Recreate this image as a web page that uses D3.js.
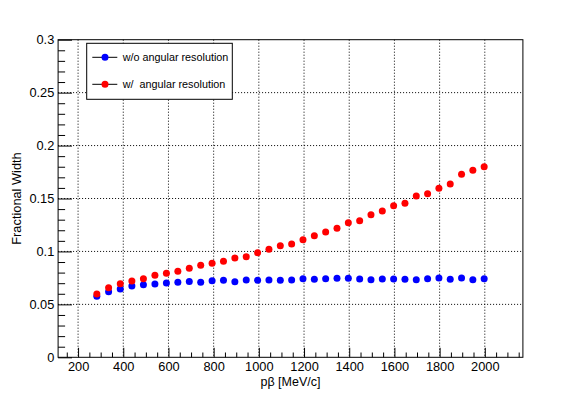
<!DOCTYPE html>
<html>
<head>
<meta charset="utf-8">
<script src="https://cdn.jsdelivr.net/npm/d3@7"></script>
<style>
  body { margin: 0; background: #fff; }
  svg { display: block; font-family: "Liberation Sans", Arial, sans-serif; }
</style>
</head>
<body>
<div class="chart"></div>
<script>
// p*beta values (MeV/c)
const pBeta = [283.0, 335.1, 386.7, 438.1, 489.2, 540.1, 590.9, 641.6, 692.2, 742.7,
  793.1, 843.5, 893.9, 944.2, 994.5, 1044.7, 1095.0, 1145.2, 1195.4, 1245.6,
  1295.7, 1345.9, 1396.0, 1446.2, 1496.3, 1546.4, 1596.5, 1646.6, 1696.7, 1746.8,
  1796.9, 1847.0, 1897.1, 1947.1, 1997.2];

// fractional width without angular resolution
const woAngular = [0.0576, 0.0620, 0.0645, 0.0673, 0.0686, 0.0692, 0.0702, 0.0708, 0.0716, 0.0708,
  0.0724, 0.0727, 0.0714, 0.0730, 0.0727, 0.0730, 0.0727, 0.0730, 0.0743, 0.0737,
  0.0743, 0.0746, 0.0746, 0.0740, 0.0733, 0.0740, 0.0740, 0.0737, 0.0733, 0.0743,
  0.0749, 0.0737, 0.0749, 0.0733, 0.0743];

// fractional width with angular resolution
const wAngular = [0.0598, 0.0657, 0.0695, 0.0721, 0.0742, 0.0775, 0.0793, 0.0812, 0.0840, 0.0869,
  0.0888, 0.0907, 0.0938, 0.0950, 0.0988, 0.1020, 0.1054, 0.1070, 0.1111, 0.1149,
  0.1184, 0.1218, 0.1271, 0.1290, 0.1347, 0.1382, 0.1432, 0.1455, 0.1524, 0.1545,
  0.1596, 0.1637, 0.1729, 0.1766, 0.1800];

const xMajor = [200, 400, 600, 800, 1000, 1200, 1400, 1600, 1800, 2000];
const xMinor = d3.range(150, 2151, 50);
const yMajor = [0, 0.05, 0.1, 0.15, 0.2, 0.25, 0.3];
const yMinor = d3.range(0, 0.3001, 0.01);

const seriesNames = ["w/o angular resolution", "w/  angular resolution"];
const seriesColors = ["#0000ff", "#ff0000"];

const W = 581, H = 397;
const margin = {top: 39.7, right: 58.1, bottom: 39.7, left: 58.1};
const w = W - margin.left - margin.right;
const h = H - margin.top - margin.bottom;

const svg = d3.select(".chart").append("svg")
    .attr("width", W)
    .attr("height", H);

const g = svg.append("g")
    .attr("transform", `translate(${margin.left},${margin.top})`);

const xScale = d3.scaleLinear().domain([111.6, 2168.6]).range([0, w]);
const yScale = d3.scaleLinear().domain([0, 0.3]).range([h, 0]);

// grid
g.append("g").attr("class", "grid")
    .selectAll("line.gx")
    .data(xMajor)
    .join("line")
    .attr("x1", d => xScale(d)).attr("x2", d => xScale(d))
    .attr("y1", 0).attr("y2", h)
    .attr("stroke", "#000").attr("stroke-width", 1)
    .attr("stroke-dasharray", "1,2");

g.append("g").attr("class", "grid")
    .selectAll("line.gy")
    .data(yMajor.slice(1, -1))
    .join("line")
    .attr("x1", 0).attr("x2", w)
    .attr("y1", d => yScale(d)).attr("y2", d => yScale(d))
    .attr("stroke", "#000").attr("stroke-width", 1)
    .attr("stroke-dasharray", "1,2");

// axes (ticks pointing into the frame)
const xAxis = d3.axisBottom(xScale)
    .tickValues(xMajor)
    .tickSize(-9.5)
    .tickPadding(5)
    .tickFormat(d3.format("d"));

const xAxisMinor = d3.axisBottom(xScale)
    .tickValues(xMinor.filter(d => xMajor.indexOf(d) < 0))
    .tickSize(-4.8)
    .tickFormat("");

const yAxis = d3.axisLeft(yScale)
    .tickValues(yMajor)
    .tickSize(-13.9)
    .tickPadding(3.8)
    .tickFormat(d => d === 0 ? "0" : String(+d.toFixed(2)));

const yAxisMinor = d3.axisLeft(yScale)
    .tickValues(yMinor.filter(d => Math.abs(d * 20 - Math.round(d * 20)) > 1e-6))
    .tickSize(-7)
    .tickFormat("");

function styleAxis(sel) {
  sel.select(".domain").remove();
  sel.selectAll(".tick line").attr("stroke", "#000");
  sel.selectAll(".tick text")
      .attr("fill", "#000")
      .attr("font-size", 12.8)
      .attr("font-family", "'Liberation Sans', Arial, sans-serif");
}

g.append("g").attr("transform", `translate(0,${h})`).call(xAxisMinor).call(styleAxis);
g.append("g").attr("transform", `translate(0,${h})`).call(xAxis).call(styleAxis);
g.append("g").call(yAxisMinor).call(styleAxis);
g.append("g").call(yAxis).call(styleAxis);

// frame
g.append("rect")
    .attr("x", 0).attr("y", 0)
    .attr("width", w).attr("height", h)
    .attr("fill", "none")
    .attr("stroke", "#000")
    .attr("stroke-width", 1);

// axis titles
svg.append("text")
    .attr("x", margin.left + w / 2)
    .attr("y", 386)
    .attr("text-anchor", "middle")
    .attr("font-size", 12.5)
    .attr("fill", "#000")
    .text("pβ [MeV/c]");

svg.append("text")
    .attr("transform", `translate(21,${margin.top + h / 2}) rotate(-90)`)
    .attr("text-anchor", "middle")
    .attr("font-size", 12.8)
    .attr("fill", "#000")
    .text("Fractional Width");

// points
const seriesData = [woAngular, wAngular];
seriesData.forEach((vals, si) => {
  g.append("g")
    .selectAll("circle")
    .data(vals)
    .join("circle")
    .attr("cx", (d, i) => xScale(pBeta[i]))
    .attr("cy", d => yScale(d))
    .attr("r", 3.5)
    .attr("fill", seriesColors[si]);
});

// legend
const leg = svg.append("g").attr("transform", "translate(86.7,43.3)");
leg.append("rect")
    .attr("x", 0).attr("y", 0)
    .attr("width", 145.6).attr("height", 56)
    .attr("fill", "#fff")
    .attr("stroke", "#000")
    .attr("stroke-width", 1);

const rows = leg.selectAll("g.row")
    .data(seriesNames)
    .join("g")
    .attr("class", "row")
    .attr("transform", (d, i) => `translate(0,${14 + i * 27})`);

rows.append("line")
    .attr("x1", 5.6).attr("x2", 30.6)
    .attr("y1", 0).attr("y2", 0)
    .attr("stroke", "#000").attr("stroke-width", 1);

rows.append("circle")
    .attr("cx", 18.3).attr("cy", 0)
    .attr("r", 3.5)
    .attr("fill", (d, i) => seriesColors[i]);

rows.append("text")
    .attr("x", 36)
    .attr("y", 0)
    .attr("dy", "0.35em")
    .attr("font-size", 10.8)
    .attr("fill", "#000")
    .attr("xml:space", "preserve")
    .style("white-space", "pre")
    .text(d => d);
</script>
</body>
</html>
